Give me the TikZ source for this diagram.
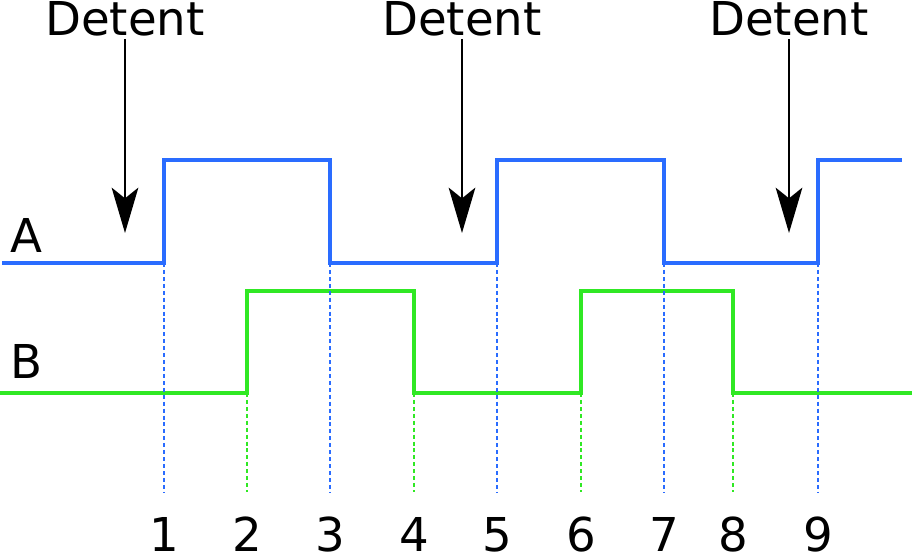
\documentclass[tikz,border=0pt]{standalone}
\usepackage{fontspec}
\setmainfont{DejaVu Sans}
\usetikzlibrary{arrows.meta, positioning}
\definecolor{chanA}{RGB}{42,108,255}
\definecolor{chanB}{RGB}{48,232,36}

\begin{document}
\begin{tikzpicture}[
    x=0.75pt, y=-0.75pt,
    lbl/.style={font=\fontsize{35}{42}\selectfont, inner sep=0pt, anchor=base},
    wave/.style={line width=2.8pt, line join=miter},
    guide/.style={line width=1pt, dash pattern=on 3pt off 2.2pt},
    detarrow/.style={line width=1.5pt, -{Stealth[length=34pt, width=20pt, inset=8pt]}}
  ]
    \useasboundingbox (0,0) rectangle (912,555);

    % signals
    \draw[wave, chanA] (2,263) -- (164,263) -- (164,160) -- (330,160) -- (330,263)
      -- (497,263) -- (497,160) -- (664,160) -- (664,263) -- (818,263) -- (818,160) -- (902,160);
    \draw[wave, chanB] (0,393) -- (247,393) -- (247,291) -- (414,291) -- (414,393)
      -- (581,393) -- (581,291) -- (733,291) -- (733,393) -- (912,393);

    \node[lbl] (lblA) at (26,253) {A};
    \node[lbl] (lblB) at (27,378) {B};

    % edge guides and numbers
    \foreach \n/\x/\top/\col in {1/164/263/chanA, 2/247/393/chanB, 3/330/263/chanA,
        4/414/393/chanB, 5/497/263/chanA, 6/581/393/chanB, 7/664/263/chanA,
        8/733/393/chanB, 9/818/263/chanA} {
      \coordinate (e\n) at (\x,\top);
      \node[lbl] (n\n) at (\x,551) {\n};
      \draw[guide, draw=\col] (e\n) -- (\x,492);
    }

    % detents
    \foreach \i/\x in {1/125, 2/462, 3/789} {
      \node[lbl] (det\i) at (\x,36) {Detent};
      \coordinate (tip\i) at (\x,233);
      \draw[detarrow] ([yshift=-1.5pt]det\i.south) -- (tip\i);
    }
  \end{tikzpicture}
\end{document}
